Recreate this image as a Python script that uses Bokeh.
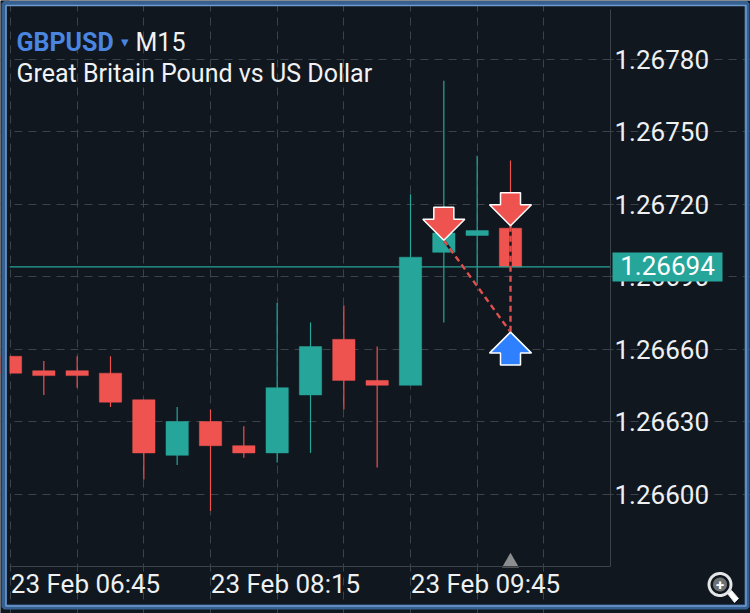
from bokeh.plotting import figure
from bokeh.embed import file_html
from bokeh.resources import INLINE
from bokeh.models import (Range1d, FixedTicker, LinearAxis, Grid, Label, BoxAnnotation,
                          PolyAnnotation, ColumnDataSource, PrintfTickFormatter)
import numpy as np

# Candles, oldest to newest
index = list(range(16))
open_ = [1.26657, 1.26651, 1.26651, 1.26650, 1.26639, 1.26616, 1.26630, 1.26620,
         1.26617, 1.26641, 1.26664, 1.26647, 1.26645, 1.26700, 1.26707, 1.26710]
close = [1.26650, 1.26649, 1.26649, 1.26638, 1.26617, 1.26630, 1.26620, 1.26617,
         1.26644, 1.26661, 1.26647, 1.26645, 1.26698, 1.26708, 1.26709, 1.26694]
high = [1.26657, 1.26655, 1.26657, 1.26657, 1.26639, 1.26636, 1.26635, 1.26628,
        1.26679, 1.26671, 1.26678, 1.26661, 1.26724, 1.26771, 1.26740, 1.26738]
low = [1.26650, 1.26641, 1.26644, 1.26636, 1.26606, 1.26612, 1.26593, 1.26615,
       1.26613, 1.26617, 1.26635, 1.26611, 1.26645, 1.26671, 1.26686, 1.26693]

y_ticks = [1.26600, 1.26630, 1.26660, 1.26690, 1.26720, 1.26750, 1.26780]
x_grid_ticks = [0, 2, 4, 6, 8, 10, 12, 14, 16]
x_label_ticks = [2.25, 8.25, 14.25]
x_labels = ["23 Feb 06:45", "23 Feb 08:15", "23 Feb 09:45"]
last_price = 1.26694

# Trades: entries (sell arrows) and the shared exit (buy arrow)
sell_x = [13, 15]
sell_y = [1.26705, 1.26711]
buy_x = [15]
buy_y = [1.26667]

BG = "#10171f"
GRID_C = "#3b4249"
UP = "#26a69a"
DOWN = "#ef5350"
TXT = "#eef0f2"
FONT = "Roboto"
W, H = 750, 613

# chart area limits in data units, and its size in pixels
X0, X1 = -0.03, 18.0
Y0, Y1 = 1.2657, 1.268005
FW, FH = 601, 557
PX = (X1 - X0) / FW
PY = (Y1 - Y0) / FH

# the plot frame fills the canvas; the chart area is kept by the axes' fixed locations
p = figure(width=W, height=H, output_backend="svg", toolbar_location=None,
           x_range=Range1d(X0 - 9 * PX, X1 + 140 * PX), y_range=Range1d(Y0 - 47 * PY, Y1 + 9 * PY),
           x_axis_location=None, y_axis_location=None,
           min_border=0, background_fill_color=BG, border_fill_color=BG, outline_line_color=None)
p.grid.visible = False

# dashed grid
p.add_layout(Grid(dimension=1, ticker=FixedTicker(ticks=y_ticks), bounds=(X0, X1),
                  grid_line_color=GRID_C, grid_line_width=1, grid_line_dash="8 6"))
p.add_layout(Grid(dimension=0, ticker=FixedTicker(ticks=x_grid_ticks), bounds=(Y0, Y1),
                  grid_line_color=GRID_C, grid_line_width=1, grid_line_dash="8 6"))

# axes
ya = LinearAxis(ticker=FixedTicker(ticks=y_ticks), formatter=PrintfTickFormatter(format="%.5f"),
                fixed_location=X1)
ya.major_label_text_font = FONT
ya.major_label_text_font_size = "26px"
ya.major_label_text_color = TXT
ya.major_label_text_line_height = 1.0
ya.major_label_standoff = 1
ya.major_tick_in = 0
ya.major_tick_out = 3
ya.major_tick_line_color = GRID_C
ya.minor_tick_line_color = None
ya.axis_line_color = GRID_C
ya.bounds = (Y0, Y1)
p.add_layout(ya, "right")

xa = LinearAxis(ticker=FixedTicker(ticks=x_label_ticks),
                major_label_overrides=dict(zip(x_label_ticks, x_labels)), fixed_location=Y0)
xa.major_label_text_font = FONT
xa.major_label_text_font_size = "26px"
xa.major_label_text_color = TXT
xa.major_label_standoff = -4
xa.major_tick_line_color = None
xa.minor_tick_line_color = None
xa.axis_line_color = GRID_C
xa.bounds = (X0, X1)
p.add_layout(xa, "below")

# candles
colors = [UP if c >= o else DOWN for o, c in zip(open_, close)]
src = ColumnDataSource(dict(x=index, top=[max(o, c) for o, c in zip(open_, close)],
                            bottom=[min(o, c) for o, c in zip(open_, close)],
                            high=high, low=low, color=colors))
p.segment("x", "high", "x", "low", color="color", line_width=1.2, source=src)
p.vbar(x="x", width=0.67, top="top", bottom="bottom", fill_color="color", line_color="color",
       line_width=0.5, source=src)

# last price line
p.line([X0, X1], [last_price, last_price], line_color=UP, line_width=1.2)

# trade lines: dark solid under red dashes
for sx, sy in zip(sell_x, sell_y):
    p.line([sx, buy_x[0]], [sy, buy_y[0]], line_color="#12181f", line_width=2.4)
    p.line([sx, buy_x[0]], [sy, buy_y[0]], line_color="#e0504e", line_width=2.4, line_dash="6 4")


def arrow(x, y, d):
    """Arrow with its tip at (x, y); d=+1 points up, d=-1 points down. Offsets are in pixels."""
    ox = np.array([0, 21, 10, 10, -10, -10, -21])
    oy = np.array([0, -21, -21, -33, -33, -21, -21]) * d
    return list(x + ox * PX), list(y + oy * PY)


for sx, sy in zip(sell_x, sell_y):
    xs, ys = arrow(sx, sy, -1)
    p.patch(xs, ys, fill_color=DOWN, line_color="#ffffff", line_width=1.5)
xs, ys = arrow(buy_x[0], buy_y[0], 1)
p.patch(xs, ys, fill_color="#2f80ff", line_color="#ffffff", line_width=1.5)

# time marker on the bottom edge
p.scatter([15], [Y0 + 4 * PY], marker="triangle", size=17, fill_color="#8b8d8f", line_color=None)


def box(left, right, top, bottom, **kw):
    p.add_layout(BoxAnnotation(left=left, right=right, top=top, bottom=bottom, left_units="canvas",
                               right_units="canvas", top_units="canvas", bottom_units="canvas",
                               line_alpha=1, **kw))


def txt(x, y, s, color=TXT, style="normal", size="25px", align="left", baseline="alphabetic"):
    """Text placed by canvas position (y measured from the top)."""
    p.add_layout(Label(x=x, y=H - y, x_units="screen", y_units="screen", text=s, text_font=FONT,
                       text_font_size=size, text_color=color, text_font_style=style,
                       text_align=align, text_baseline=baseline))


# mask left of the chart area, which hides the clipped part of the first candle
box(0, 9, 0, H, fill_color=BG, fill_alpha=1, line_color=None)

# price tag
box(612, 722, 252, 281, fill_color=UP, fill_alpha=1, line_color=None)
txt(667, 264.5, f"{last_price:.5f}", "#ffffff", size="26px", align="center", baseline="middle")

# title
txt(16, 42, "GBPUSD", "#4a86e0", "bold")
txt(120, 41, "▾", "#4a86e0", size="15px")
txt(135, 42, "M15", "#f0f2f4")
txt(16, 73, "Great Britain Pound vs US Dollar", "#f0f2f4")

# outer frame
box(3.5, 746.5, 3, 606.5, fill_alpha=0, line_color="#36608f", line_width=5)
box(5.5, 745.5, 5, 605.5, fill_alpha=0, line_color="#6f9bd0", line_width=1.5)

# zoom icon
t = np.linspace(0, 2 * np.pi, 40)
ICON = "#e4e5e6"
p.add_layout(PolyAnnotation(xs=[727, 731, 738, 734], ys=[593, 590, 598, 602],
                            xs_units="canvas", ys_units="canvas", fill_color="#ffffff", fill_alpha=1,
                            line_color=ICON, line_alpha=1, line_width=1))
p.add_layout(PolyAnnotation(xs=list(719.5 + 11 * np.cos(t)), ys=list(584 + 11 * np.sin(t)),
                            xs_units="canvas", ys_units="canvas", fill_alpha=0,
                            line_color=ICON, line_alpha=1, line_width=3))
p.add_layout(PolyAnnotation(xs=list(719.5 + 7 * np.cos(t)), ys=list(584 + 7 * np.sin(t)),
                            xs_units="canvas", ys_units="canvas", fill_color="#6f7071", fill_alpha=1,
                            line_color=None))
txt(719.5, 584, "+", "#ffffff", "bold", "15px", "center", "middle")

open("out.html", "w").write(file_html(p, INLINE))
